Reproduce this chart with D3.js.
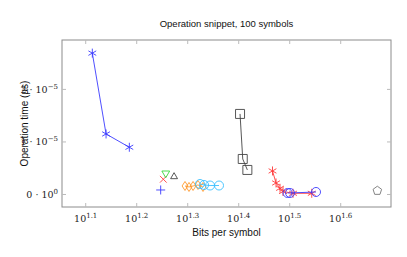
<!DOCTYPE html>
<html lang="en">
<head>
  <meta charset="UTF-8">
  <title>Operation snippet</title>
  <script src="https://d3js.org/d3.v7.min.js"></script>
  <style>
    body { margin: 0; background: #fff; }
    svg { font-family: "Liberation Sans", sans-serif; }
    .tick-label { font-family: "DejaVu Serif", "Liberation Serif", serif; font-size: 9.5px; fill: #222; }
  </style>
</head>
<body>
<svg id="chart" width="407" height="257"></svg>
<script>
// bits per symbol (x) and operation time (y) for each method
const blueStarX = [12.97, 13.80, 15.33];
const blueStarY = [2.690e-5, 1.152e-5, 0.899e-5];
const bluePlusX = [17.66];
const bluePlusY = [0.086e-5];
const redCrossX = [17.87];
const redCrossY = [0.290e-5];
const greenTriX = [18.07];
const greenTriY = [0.404e-5];
const grayTriX = [18.76];
const grayTriY = [0.339e-5];
const orangeDiamondX = [19.71, 20.07, 20.44, 20.90, 21.38];
const orangeDiamondY = [0.162e-5, 0.143e-5, 0.162e-5, 0.181e-5, 0.143e-5];
const cyanCircleX = [21.09, 21.48, 22.07, 22.98];
const cyanCircleY = [0.200e-5, 0.181e-5, 0.171e-5, 0.171e-5];
const blackSquareX = [25.27, 25.58, 26.12];
const blackSquareY = [1.533e-5, 0.676e-5, 0.467e-5];
const redStarX = [29.26, 29.73, 30.27, 30.68, 32.10, 34.93];
const redStarY = [0.448e-5, 0.219e-5, 0.118e-5, 0.057e-5, 0.023e-5, 0.023e-5];
const blueCircleX = [31.31, 31.67, 35.61];
const blueCircleY = [0.029e-5, 0.029e-5, 0.048e-5];
const pentagonX = [46.97];
const pentagonY = [0.072e-5];

const xTickExp = [1.1, 1.2, 1.3, 1.4, 1.5, 1.6];
const yTickVals = [0, 1e-5, 2e-5];
const yTickMant = ["0", "1", "2"];
const yTickExp = ["0", "\u22125", "\u22125"];

const margin = { left: 62, right: 16, top: 40, bottom: 50 };
const W = 407, H = 257;

const svg = d3.select("#chart");

const x = d3.scaleLog()
  .domain([Math.pow(10, 1.0535), Math.pow(10, 1.6986)])
  .range([margin.left, W - margin.right]);
const y = d3.scaleLinear()
  .domain([-0.238e-5, 2.94e-5])
  .range([H - margin.bottom, margin.top]);

const x0 = margin.left, x1 = W - margin.right;
const y0 = H - margin.bottom, y1 = margin.top;

// frame
svg.append("rect")
  .attr("x", x0).attr("y", y1)
  .attr("width", x1 - x0).attr("height", y0 - y1)
  .attr("fill", "none").attr("stroke", "#8c8c8c").attr("stroke-width", 1);

// x ticks (bottom + top, inside)
xTickExp.forEach(e => {
  const px = x(Math.pow(10, e));
  svg.append("line").attr("x1", px).attr("x2", px).attr("y1", y0).attr("y2", y0 - 4)
    .attr("stroke", "#bbb");
  svg.append("line").attr("x1", px).attr("x2", px).attr("y1", y1).attr("y2", y1 + 4)
    .attr("stroke", "#bbb");
  const t = svg.append("text").attr("class", "tick-label")
    .attr("x", px).attr("y", y0 + 15).attr("text-anchor", "middle");
  t.append("tspan").text("10");
  t.append("tspan").attr("dy", -4).attr("font-size", "7px").text(e.toFixed(1));
});

// y ticks (left + right)
yTickVals.forEach((v, i) => {
  const py = y(v);
  svg.append("line").attr("x1", x0).attr("x2", x0 + 4).attr("y1", py).attr("y2", py)
    .attr("stroke", "#bbb");
  svg.append("line").attr("x1", x1).attr("x2", x1 - 4).attr("y1", py).attr("y2", py)
    .attr("stroke", "#bbb");
  const t = svg.append("text").attr("class", "tick-label")
    .attr("x", x0 - 4).attr("y", py + 3.5).attr("text-anchor", "end");
  t.append("tspan").text(yTickMant[i] + " \u00b7 10");
  t.append("tspan").attr("dy", -4).attr("font-size", "7px").text(yTickExp[i]);
});

// titles
svg.append("text").attr("x", (x0 + x1) / 2).attr("y", 27).attr("text-anchor", "middle")
  .attr("font-size", "9.5px").attr("fill", "#111").text("Operation snippet, 100 symbols");
svg.append("text").attr("x", (x0 + x1) / 2).attr("y", 236).attr("text-anchor", "middle")
  .attr("font-size", "10px").attr("fill", "#111").text("Bits per symbol");
svg.append("text").attr("transform", `translate(28,${(y0 + y1) / 2}) rotate(-90)`)
  .attr("text-anchor", "middle").attr("font-size", "10px").attr("fill", "#111")
  .text("Operation time (\u00b5s)");

// marker shapes
function shapePath(kind, r) {
  const p = d3.path();
  if (kind === "asterisk") {
    for (let k = 0; k < 3; k++) {
      const a = Math.PI / 2 + k * Math.PI / 3;
      p.moveTo(r * Math.cos(a), -r * Math.sin(a));
      p.lineTo(-r * Math.cos(a), r * Math.sin(a));
    }
  } else if (kind === "plus") {
    p.moveTo(-r, 0); p.lineTo(r, 0); p.moveTo(0, -r); p.lineTo(0, r);
  } else if (kind === "cross") {
    const s = r * 0.75;
    p.moveTo(-s, -s); p.lineTo(s, s); p.moveTo(-s, s); p.lineTo(s, -s);
  } else if (kind === "triDown" || kind === "triUp") {
    const sg = kind === "triUp" ? -1 : 1;
    for (let k = 0; k < 3; k++) {
      const a = -Math.PI / 2 * sg + k * 2 * Math.PI / 3;
      const px = r * Math.cos(a), py = -r * Math.sin(a);
      if (k === 0) p.moveTo(px, py); else p.lineTo(px, py);
    }
    p.closePath();
  } else if (kind === "diamond") {
    p.moveTo(0, -r); p.lineTo(r * 0.65, 0); p.lineTo(0, r); p.lineTo(-r * 0.65, 0); p.closePath();
  } else if (kind === "square") {
    p.rect(-r, -r, 2 * r, 2 * r);
  } else if (kind === "circle") {
    p.arc(0, 0, r, 0, 2 * Math.PI);
  } else if (kind === "pentagon") {
    for (let k = 0; k < 5; k++) {
      const a = Math.PI / 2 + k * 2 * Math.PI / 5;
      const px = r * Math.cos(a), py = -r * Math.sin(a);
      if (k === 0) p.moveTo(px, py); else p.lineTo(px, py);
    }
    p.closePath();
  }
  return p.toString();
}

const series = [
  { xs: blueStarX, ys: blueStarY, color: "#3b3bff", mark: "asterisk", r: 4.5, line: true },
  { xs: bluePlusX, ys: bluePlusY, color: "#3b3bff", mark: "plus", r: 4.5, line: false },
  { xs: redCrossX, ys: redCrossY, color: "#ff3b3b", mark: "cross", r: 4.5, line: false },
  { xs: greenTriX, ys: greenTriY, color: "#3bd83b", mark: "triDown", r: 4.5, line: false },
  { xs: grayTriX, ys: grayTriY, color: "#444", mark: "triUp", r: 4, line: false },
  { xs: orangeDiamondX, ys: orangeDiamondY, color: "#ff9a2e", mark: "diamond", r: 4.5, line: true },
  { xs: cyanCircleX, ys: cyanCircleY, color: "#3bbfff", mark: "circle", r: 4.5, line: true },
  { xs: blackSquareX, ys: blackSquareY, color: "#444", mark: "square", r: 4.5, line: true },
  { xs: redStarX, ys: redStarY, color: "#ff3b3b", mark: "asterisk", r: 4.5, line: true },
  { xs: blueCircleX, ys: blueCircleY, color: "#3b3bff", mark: "circle", r: 4.5, line: true },
  { xs: pentagonX, ys: pentagonY, color: "#777", mark: "pentagon", r: 4.5, line: false }
];

const lineGen = d3.line().x(d => x(d[0])).y(d => y(d[1]));

series.forEach(s => {
  const pts = s.xs.map((v, i) => [v, s.ys[i]]);
  if (s.line) {
    svg.append("path").attr("d", lineGen(pts))
      .attr("fill", "none").attr("stroke", s.color).attr("stroke-width", 0.9);
  }
  svg.append("g").selectAll("path").data(pts).join("path")
    .attr("transform", d => `translate(${x(d[0])},${y(d[1])})`)
    .attr("d", shapePath(s.mark, s.r))
    .attr("fill", "none").attr("stroke", s.color).attr("stroke-width", 0.9);
});
</script>
</body>
</html>
